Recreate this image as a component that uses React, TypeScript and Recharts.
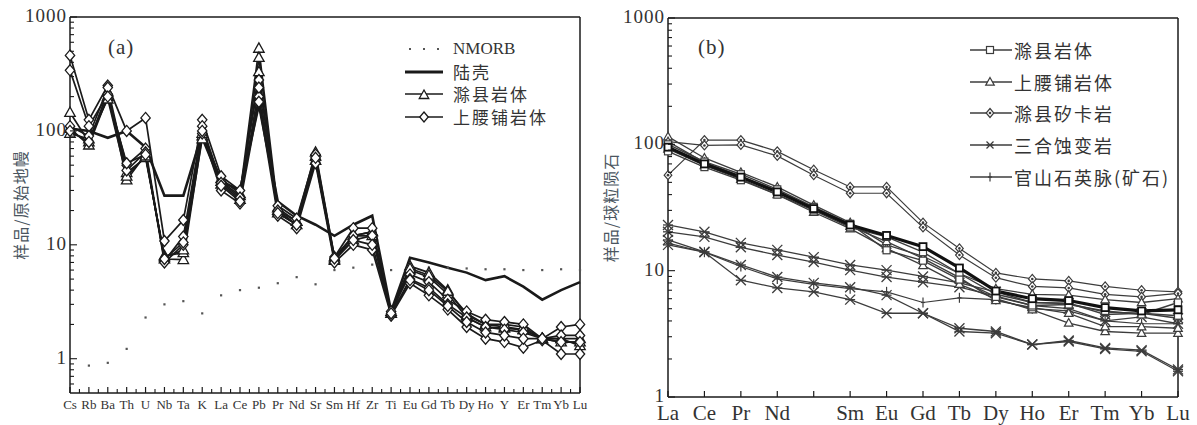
import React from 'react';
import { LineChart, Line, XAxis, YAxis, Legend, ReferenceLine } from 'recharts';

// ---- panel (a): primitive-mantle normalised spider diagram ----
const elementsA = ['Cs', 'Rb', 'Ba', 'Th', 'U', 'Nb', 'Ta', 'K', 'La', 'Ce', 'Pb', 'Pr', 'Nd', 'Sr', 'Sm', 'Hf', 'Zr', 'Ti', 'Eu', 'Gd', 'Tb', 'Dy', 'Ho', 'Y', 'Er', 'Tm', 'Yb', 'Lu'];
const nmorbA = [null, 0.87, 0.92, 1.22, 2.3, 3.0, 3.2, 2.5, 3.6, 4.0, 4.2, 4.6, 5.2, 4.5, 6.0, 6.3, 6.7, 6.0, 6.3, 6.3, 6.3, 6.2, 6.1, 6.1, 6.0, 6.0, 6.1, 6.0];
const crustA = [105, 100, 87, 100, 72, 27, 27, 95, 36, 30, 170, 24, 18, 15, 12, 15, 18, 2.6, 7.7, 7.0, 6.3, 5.7, 4.9, 5.3, 4.3, 3.3, 4.0, 4.7];
const chuxianA1 = [145, 80, 220, 37, 62, 7.5, 7.4, 90, 38, 28, 530, 21, 16, 65, 7.8, 12, 13, 2.6, 6.5, 5.7, 4.0, 2.4, 2.0, 1.9, 1.8, 1.5, 1.5, 1.3];
const chuxianA2 = [105, 75, 200, 43, 58, 8.0, 8.5, 85, 34, 25, 440, 19, 15, 60, 7.3, 11, 12, 2.5, 6.0, 5.2, 3.7, 2.3, 1.9, 1.85, 1.8, 1.5, 1.4, 1.4];
const chuxianA3 = [95, 85, 190, 40, 60, 7.8, 9.0, 95, 36, 27, 330, 20, 16, 55, 7.5, 12, 13, 2.5, 6.2, 5.4, 3.9, 2.5, 2.0, 2.0, 1.9, 1.5, 1.5, 1.5];
const shangyaopuA1 = [460, 125, 250, 100, 130, 10.8, 16.5, 125, 40, 30, 280, 22, 17, 62, 7.8, 14, 14, 2.6, 5.5, 4.7, 3.3, 2.6, 2.2, 2.1, 2.0, 1.5, 1.9, 2.0];
const shangyaopuA2 = [340, 110, 210, 50, 70, 7.2, 11.8, 110, 35, 26, 200, 20, 15, 55, 7.4, 12, 12, 2.4, 5.0, 4.2, 3.0, 2.3, 1.9, 1.8, 1.7, 1.5, 1.6, 1.6];
const shangyaopuA3 = [110, 90, 240, 45, 65, 7.0, 10, 95, 30, 23, 180, 18, 14, 52, 7.0, 10, 9, 2.4, 4.6, 3.6, 2.7, 1.9, 1.5, 1.4, 1.25, 1.45, 1.1, 1.1];
const shangyaopuA4 = [100, 80, 200, 52, 62, 7.5, 10.5, 100, 33, 24, 240, 19, 15, 58, 7.6, 11, 10, 2.5, 4.9, 4.0, 2.9, 2.1, 1.7, 1.6, 1.5, 1.5, 1.4, 1.4];
const ticksA = [0.6, 0.7, 0.8, 0.9, 1, 2, 3, 4, 5, 6, 7, 8, 9, 10, 20, 30, 40, 50, 60, 70, 80, 90, 100, 200, 300, 400, 500, 600, 700, 800, 900, 1000];

// ---- panel (b): chondrite normalised REE patterns ----
const elementsB = ['La', 'Ce', 'Pr', 'Nd', 'Pm', 'Sm', 'Eu', 'Gd', 'Tb', 'Dy', 'Ho', 'Er', 'Tm', 'Yb', 'Lu'];
const labelsB = ['La', 'Ce', 'Pr', 'Nd', '', 'Sm', 'Eu', 'Gd', 'Tb', 'Dy', 'Ho', 'Er', 'Tm', 'Yb', 'Lu'];
const chuxianB1 = [95, 70, 55, 42, 31, 23, 19, 15.5, 10.5, 6.9, 6.0, 5.8, 5.1, 4.8, 4.9];
const chuxianB2 = [88, 66, 52, 40, 30, 22, 18.5, 14, 9.5, 6.5, 5.6, 5.5, 4.7, 4.6, 4.4];
const chuxianB3 = [100, 73, 58, 44, 32, 23.5, 14.5, 12, 8.5, 6.2, 5.3, 5.4, 4.8, 4.5, 5.6];
const shangyaopuB1 = [115, 78, 60, 46, 33, 24, 16, 13, 9.5, 7.2, 6.5, 6.4, 5.9, 5.6, 6.0];
const shangyaopuB2 = [92, 68, 53, 40, 29, 21.5, 15, 11, 7.8, 6.0, 4.9, 3.85, 3.3, 3.2, 3.2];
const shangyaopuB3 = [105, 72, 56, 43, 31, 22.5, 17, 12.5, 8.8, 5.8, 5.1, 4.6, 3.6, 3.6, 3.5];
const skarnB1 = [57, 108, 108, 88, 63, 46, 46, 24, 15, 9.6, 8.6, 8.3, 7.5, 7.0, 6.8];
const skarnB2 = [105, 98, 99, 81, 57, 41, 41, 22, 13.3, 8.8, 7.5, 7.3, 6.5, 6.2, 6.6];
const sanheB1 = [23, 20.3, 16.6, 14.6, 12.8, 11.1, 10.1, 9.0, 8.0, 6.8, 5.6, 5.5, 4.5, 4.6, 4.2];
const sanheB2 = [20.3, 18.5, 15.3, 13.3, 11.7, 10.1, 8.9, 8.1, 7.4, 6.3, 5.3, 5.0, 4.0, 4.3, 3.8];
const sanheB3 = [17.5, 14.1, 11.1, 8.9, 8.0, 7.4, 6.4, 4.6, 3.5, 3.3, 2.6, 2.8, 2.45, 2.35, 1.65];
const sanheB4 = [16.0, 14.0, 8.4, 7.3, 6.8, 5.9, 4.6, 4.6, 3.3, 3.2, 2.6, 2.75, 2.4, 2.3, 1.6];
const quartzB1 = [16.5, 14.0, 10.8, 8.6, 7.8, 7.2, 6.8, 5.6, 6.1, 5.9, 5.0, 4.8, 4.0, 3.8, 3.8];
const ticksB = [1, 2, 3, 4, 5, 6, 7, 8, 9, 10, 20, 30, 40, 50, 60, 70, 80, 90, 100, 200, 300, 400, 500, 600, 700, 800, 900, 1000];

const rowsA = elementsA.map((el, i) => ({
  el,
  nmorb: nmorbA[i],
  crust: crustA[i],
  cx1: chuxianA1[i],
  cx2: chuxianA2[i],
  cx3: chuxianA3[i],
  sy1: shangyaopuA1[i],
  sy2: shangyaopuA2[i],
  sy3: shangyaopuA3[i],
  sy4: shangyaopuA4[i],
}));

const rowsB = elementsB.map((el, i) => ({
  el,
  cx1: chuxianB1[i],
  cx2: chuxianB2[i],
  cx3: chuxianB3[i],
  sy1: shangyaopuB1[i],
  sy2: shangyaopuB2[i],
  sy3: shangyaopuB3[i],
  sk1: skarnB1[i],
  sk2: skarnB2[i],
  sh1: sanheB1[i],
  sh2: sanheB2[i],
  sh3: sanheB3[i],
  sh4: sanheB4[i],
  qz1: quartzB1[i],
}));

const SERIF = '"Liberation Serif", "DejaVu Serif", serif';
const CJK = '"Noto Sans CJK SC", sans-serif';
const INK = '#1a1a1a';
const GREY = '#3c3c3c';

const STEP_A = 510 / (elementsA.length - 1);
const MAJOR = [1, 10, 100, 1000];

// ---- marker shapes ----
const Tri = ({ cx, cy, s = 6, stroke = INK, sw = 1.3 }: any) => (
  <polygon points={`${cx},${cy - s} ${cx + s * 0.95},${cy + s * 0.7} ${cx - s * 0.95},${cy + s * 0.7}`} fill="#fff" stroke={stroke} strokeWidth={sw} />
);
const Dia = ({ cx, cy, s = 6, stroke = INK, sw = 1.3, center = false }: any) => (
  <g>
    <polygon points={`${cx},${cy - s} ${cx + s * 0.85},${cy} ${cx},${cy + s} ${cx - s * 0.85},${cy}`} fill="#fff" stroke={stroke} strokeWidth={sw} />
    {center && <circle cx={cx} cy={cy} r={1.3} fill={stroke} />}
  </g>
);
const Sq = ({ cx, cy, s = 3.5, stroke = GREY, sw = 1.2 }: any) => (
  <rect x={cx - s} y={cy - s} width={s * 2} height={s * 2} fill="#fff" stroke={stroke} strokeWidth={sw} />
);
const Star = ({ cx, cy, s = 5, stroke = GREY }: any) => (
  <g stroke={stroke} strokeWidth={1.3}>
    <line x1={cx - s} y1={cy - s} x2={cx + s} y2={cy + s} />
    <line x1={cx - s} y1={cy + s} x2={cx + s} y2={cy - s} />
    <line x1={cx - s} y1={cy} x2={cx + s} y2={cy} />
  </g>
);
const Plus = ({ cx, cy, s = 5, stroke = GREY }: any) => (
  <g stroke={stroke} strokeWidth={1.2}>
    <line x1={cx} y1={cy - s} x2={cx} y2={cy + s} />
    <line x1={cx - 2} y1={cy} x2={cx + 2} y2={cy} />
  </g>
);

const dotWith = (Shape: any, extra: any = {}) => (p: any) => {
  const key = `${p.dataKey}-${p.index}`;
  if (p.cx == null || p.cy == null || p.value == null) return <g key={key} />;
  return <g key={key}><Shape cx={p.cx} cy={p.cy} {...extra} /></g>;
};

const nmorbDot = (p: any) => {
  const key = `nm-${p.index}`;
  if (p.cx == null || p.cy == null || p.value == null) return <g key={key} />;
  return <rect key={key} x={p.cx - 1.1} y={p.cy - 1.1} width={2.2} height={2.2} fill="#555" />;
};

// ---- ticks ----
const XTickA = ({ x, y, payload, index }: any) => (
  <g>
    <line x1={x} x2={x} y1={y} y2={y - 6} stroke={INK} strokeWidth={1.2} />
    {index < elementsA.length - 1 && (
      <line x1={x + STEP_A / 2} x2={x + STEP_A / 2} y1={y} y2={y - 4} stroke={INK} strokeWidth={1.1} />
    )}
    <text x={x} y={y + 16} textAnchor="middle" fontFamily={SERIF} fontSize={13} fill="#333">{payload.value}</text>
  </g>
);

const XTickB = ({ x, y, index }: any) => (
  <g>
    <line x1={x} x2={x} y1={y} y2={y - 6} stroke={INK} strokeWidth={1.2} />
    <text x={x} y={y + 23} textAnchor="middle" fontFamily={SERIF} fontSize={21} fill="#333">{labelsB[index]}</text>
  </g>
);

const YTick = ({ x, y, payload }: any) => {
  const major = MAJOR.includes(payload.value);
  return (
    <g>
      <line x1={x} x2={x + (major ? 7 : 4)} y1={y} y2={y} stroke={INK} strokeWidth={1.1} />
      {major && (
        <text x={x - 3} y={y + 5} textAnchor="end" fontFamily={SERIF} fontSize={19} letterSpacing={1} fill="#333">{payload.value}</text>
      )}
    </g>
  );
};

const YLabel = ({ viewBox, text, dx }: any) => {
  const cx = viewBox.x + dx;
  const cy = viewBox.y + viewBox.height / 2;
  return (
    <text x={cx} y={cy} transform={`rotate(-90 ${cx} ${cy})`} textAnchor="middle" dominantBaseline="central" fontFamily={CJK} fontSize={16} fill="#4a5560" letterSpacing={1}>{text}</text>
  );
};

// ---- legends ----
const legendA = [
  { label: 'NMORB', kind: 'dots' },
  { label: '陆壳', kind: 'thick' },
  { label: '滁县岩体', kind: 'tri' },
  { label: '上腰铺岩体', kind: 'dia' },
];

const LegendA = () => (
  <div>
    {legendA.map((it) => (
      <div key={it.label} style={{ display: 'flex', alignItems: 'center', height: 22.5 }}>
        <svg width={50} height={20}>
          {it.kind === 'dots' && [6, 20, 34].map((x) => <rect key={x} x={x} y={9} width={2} height={2} fill="#555" />)}
          {it.kind === 'thick' && <line x1={2} x2={40} y1={10} y2={10} stroke={INK} strokeWidth={3} />}
          {it.kind === 'tri' && (<g><line x1={2} x2={40} y1={10} y2={10} stroke={INK} strokeWidth={1.5} /><Tri cx={21} cy={11} s={5} /></g>)}
          {it.kind === 'dia' && (<g><line x1={2} x2={40} y1={10} y2={10} stroke={INK} strokeWidth={1.5} /><Dia cx={21} cy={10} s={5} /></g>)}
        </svg>
        <span style={{ fontFamily: it.kind === 'dots' ? SERIF : CJK, fontSize: 17, lineHeight: '18px', color: '#333', letterSpacing: it.kind === 'dots' ? 0 : 2 }}>{it.label}</span>
      </div>
    ))}
  </div>
);

const legendB = [
  { label: '滁县岩体', Shape: Sq },
  { label: '上腰铺岩体', Shape: Tri },
  { label: '滁县矽卡岩', Shape: Dia },
  { label: '三合蚀变岩', Shape: Star },
  { label: '官山石英脉(矿石)', Shape: Plus },
];

const LegendB = () => (
  <div>
    {legendB.map((it) => (
      <div key={it.label} style={{ display: 'flex', alignItems: 'center', height: 31.7 }}>
        <svg width={46} height={20}>
          <line x1={2} x2={44} y1={10} y2={10} stroke={GREY} strokeWidth={1.3} />
          <it.Shape cx={22} cy={10} s={it.Shape === Sq ? 3.5 : it.Shape === Star ? 3.5 : 4.5} stroke={GREY} sw={1.2} center={it.Shape === Dia} />
        </svg>
        <span style={{ fontFamily: CJK, fontSize: 18, lineHeight: '20px', color: '#333', letterSpacing: 2 }}>{it.label}</span>
      </div>
    ))}
  </div>
);

const PanelTag = ({ left, top, text }: any) => (
  <div style={{ position: 'absolute', left, top, fontFamily: SERIF, fontSize: 21, color: '#333', letterSpacing: 1 }}>{text}</div>
);

export default function App() {
  const aSamples = [
    { key: 'cx1', Shape: Tri },
    { key: 'cx2', Shape: Tri },
    { key: 'cx3', Shape: Tri },
    { key: 'sy1', Shape: Dia },
    { key: 'sy2', Shape: Dia },
    { key: 'sy3', Shape: Dia },
    { key: 'sy4', Shape: Dia },
  ];
  const bSamples = [
    { key: 'sh1', Shape: Star, w: 1.3 },
    { key: 'sh2', Shape: Star, w: 1.3 },
    { key: 'sh3', Shape: Star, w: 1.3 },
    { key: 'sh4', Shape: Star, w: 1.3 },
    { key: 'qz1', Shape: Plus, w: 1.2 },
    { key: 'sk1', Shape: Dia, w: 1.2, extra: { s: 4.5, stroke: GREY, sw: 1.2, center: true } },
    { key: 'sk2', Shape: Dia, w: 1.2, extra: { s: 4.5, stroke: GREY, sw: 1.2, center: true } },
    { key: 'sy1', Shape: Tri, w: 1.3, extra: { s: 4.5, stroke: GREY, sw: 1.2 } },
    { key: 'sy2', Shape: Tri, w: 1.3, extra: { s: 4.5, stroke: GREY, sw: 1.2 } },
    { key: 'sy3', Shape: Tri, w: 1.3, extra: { s: 4.5, stroke: GREY, sw: 1.2 } },
    { key: 'cx2', Shape: Sq, w: 1.4 },
    { key: 'cx3', Shape: Sq, w: 1.4 },
    { key: 'cx1', Shape: Sq, w: 3.2, extra: { stroke: '#111', sw: 1.8 } },
  ];

  return (
    <div style={{ position: 'absolute', left: 0, top: 0, width: 1197, height: 425, background: '#fff', overflow: 'hidden' }}>
      <div style={{ position: 'absolute', left: 0, top: 0 }}>
        <LineChart width={590} height={425} data={rowsA} margin={{ top: 17, right: 10, left: 0, bottom: 7 }}>
          <XAxis dataKey="el" interval={0} tickSize={0} tickMargin={0} tickLine={false} height={25}
            axisLine={{ stroke: INK, strokeWidth: 1.5 }} tick={<XTickA />} />
          <YAxis scale="log" domain={[0.5, 1000]} allowDataOverflow ticks={ticksA} interval={0} width={70}
            tickSize={0} tickMargin={0} tickLine={false} axisLine={{ stroke: INK, strokeWidth: 1.5 }} tick={<YTick />}
            label={<YLabel text="样品/原始地幔" dx={20} />} />
          <ReferenceLine y={1000} stroke={INK} strokeWidth={1.5} />
          <ReferenceLine x="Lu" stroke={INK} strokeWidth={1.5} />
          <Line dataKey="nmorb" stroke="none" dot={nmorbDot} isAnimationActive={false} legendType="none" />
          <Line dataKey="crust" stroke={INK} strokeWidth={2.6} dot={false} isAnimationActive={false} legendType="none" />
          {aSamples.map((s) => (
            <Line key={s.key} dataKey={s.key} stroke={INK} strokeWidth={1.7} dot={dotWith(s.Shape, { s: 5.5 })} isAnimationActive={false} legendType="none" />
          ))}
          <Legend content={<LegendA />} layout="horizontal" verticalAlign="middle"
            wrapperStyle={{ left: 403, top: 38, width: 180, bottom: 'auto' }} />
        </LineChart>
        <PanelTag left={108} top={35} text="(a)" />
      </div>
      <div style={{ position: 'absolute', left: 590, top: 0 }}>
        <LineChart width={607} height={425} data={rowsB} margin={{ top: 18, right: 19, left: 0, bottom: 6 }}>
          <XAxis dataKey="el" interval={0} tickSize={0} tickMargin={0} tickLine={false} height={22}
            axisLine={{ stroke: INK, strokeWidth: 1.5 }} tick={<XTickB />} />
          <YAxis scale="log" domain={[1, 1000]} allowDataOverflow ticks={ticksB} interval={0} width={78}
            tickSize={0} tickMargin={0} tickLine={false} axisLine={{ stroke: INK, strokeWidth: 1.5 }} tick={<YTick />}
            label={<YLabel text="样品/球粒陨石" dx={20} />} />
          <ReferenceLine y={1000} stroke={INK} strokeWidth={1.5} />
          <ReferenceLine x="Lu" stroke={INK} strokeWidth={1.5} />
          {bSamples.map((s) => (
            <Line key={s.key} dataKey={s.key} stroke={s.w > 2 ? '#111' : GREY} strokeWidth={s.w}
              dot={dotWith(s.Shape, s.extra || {})} isAnimationActive={false} legendType="none" />
          ))}
          <Legend content={<LegendB />} layout="horizontal" verticalAlign="middle"
            wrapperStyle={{ left: 378, top: 34, width: 220, bottom: 'auto' }} />
        </LineChart>
        <PanelTag left={108} top={35} text="(b)" />
      </div>
    </div>
  );
}
